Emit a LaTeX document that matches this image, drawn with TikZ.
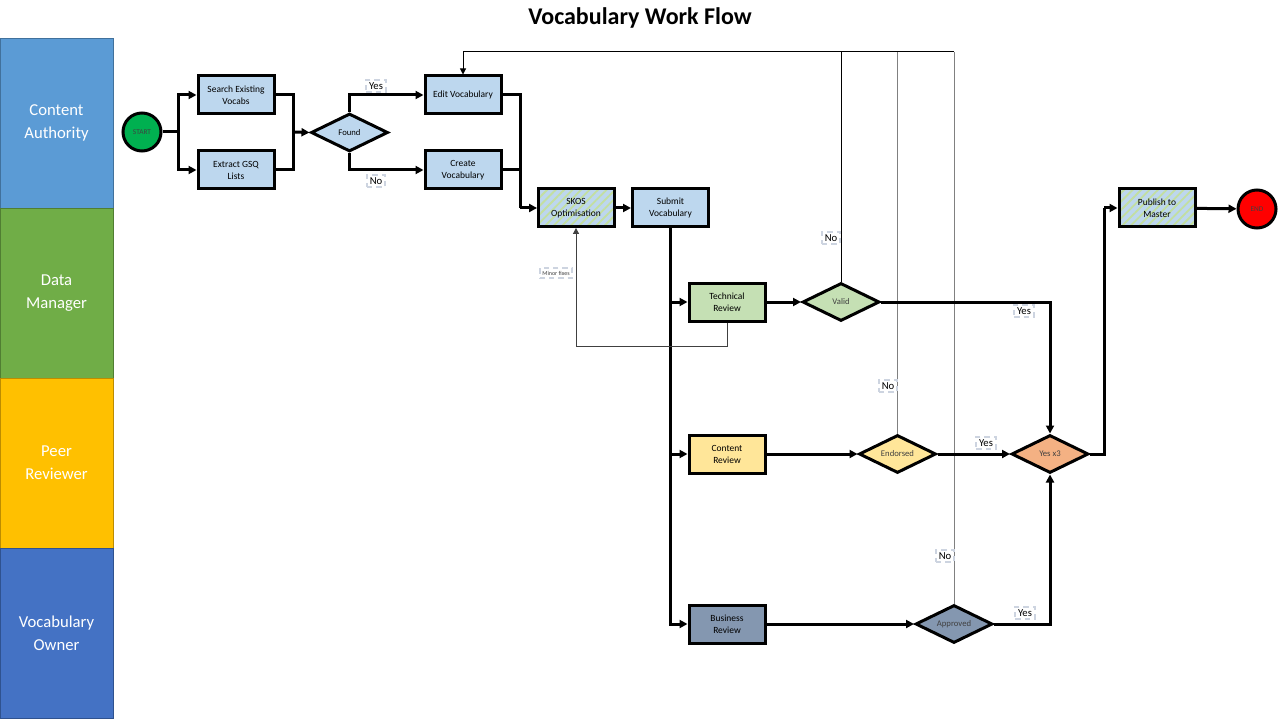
\documentclass[tikz,border=0pt]{standalone}
\usepackage{fontspec}
\setmainfont{Carlito}
\usetikzlibrary{shapes.geometric,arrows.meta,patterns.meta}
\definecolor{laneA}{HTML}{5B9BD5}
\definecolor{laneAb}{HTML}{41719C}
\definecolor{laneB}{HTML}{70AD47}
\definecolor{laneBb}{HTML}{507E32}
\definecolor{laneC}{HTML}{FFC000}
\definecolor{laneCb}{HTML}{BC8C00}
\definecolor{laneD}{HTML}{4472C4}
\definecolor{laneDb}{HTML}{2F528F}
\definecolor{procblue}{HTML}{BDD7EE}
\definecolor{techgreen}{HTML}{C5E0B4}
\definecolor{contyellow}{HTML}{FFE699}
\definecolor{busslate}{HTML}{8497B0}
\definecolor{yesorange}{HTML}{F4B183}
\definecolor{startgreen}{HTML}{00B050}
\definecolor{hatchgreen}{HTML}{C3DFA0}
\definecolor{lblborder}{HTML}{CDD4E0}
\definecolor{darktext}{HTML}{404040}
\tikzset{
  lane/.style={rectangle, draw=#1, line width=0.6pt, minimum width=84.75pt, minimum height=127.5pt,
    text=white, align=center, font=\fontsize{12.5}{17}\selectfont, inner sep=0pt},
  proc/.style={rectangle, draw=black, line width=2.25pt, minimum width=57pt, minimum height=28.5pt,
    align=center, font=\fontsize{7.1}{9}\selectfont, inner sep=1pt},
  hatched/.style={proc, preaction={fill=procblue},
    pattern={Lines[angle=45,distance=4.5pt,line width=1.4pt]}, pattern color=hatchgreen},
  decision/.style={diamond, aspect=2, draw=black, line width=2.25pt, minimum width=57.75pt,
    minimum height=28.5pt, inner sep=0.5pt, text=darktext, font=\fontsize{6.5}{7}\selectfont},
  term/.style={circle, draw=black, line width=2.25pt, minimum size=28.5pt, inner sep=0pt,
    font=\fontsize{5.5}{6}\selectfont},
  conn/.style={line width=2.25pt, -{Triangle[length=6pt,width=6pt]}},
  seg/.style={line width=2.25pt},
  thinconn/.style={line width=0.75pt, -{Triangle[length=4.5pt,width=4.5pt]}},
  thinseg/.style={line width=0.75pt},
  lbl/.style={draw=lblborder, dashed, dash pattern=on 4pt off 3pt, line width=1.6pt, fill=white,
    inner sep=2pt, font=\fontsize{8}{9}\selectfont},
}
\begin{document}
\begin{tikzpicture}[x=0.75pt,y=-0.75pt]
\useasboundingbox (0,0) rectangle (1280,720);
\fill[white] (0,0) rectangle (1280,720);

% title
\node[font=\fontsize{18}{20}\bfseries] (title) at (640,18) {Vocabulary Work Flow};

% lanes
\node[lane=laneAb, fill=laneA] (laneCA) at (56.5,123) {Content\\Authority};
\node[lane=laneBb, fill=laneB] (laneDM) at (56.5,293) {Data\\Manager};
\node[lane=laneCb, fill=laneC] (lanePR) at (56.5,463) {Peer\\Reviewer};
\node[lane=laneDb, fill=laneD] (laneVO) at (56.5,633) {Vocabulary\\Owner};

% nodes
\node[term, fill=startgreen, text=darktext] (start) at (142,132) {START};
\node[proc, fill=procblue] (search) at (236,95) {Search Existing\\Vocabs};
\node[proc, fill=procblue] (extract) at (236,170) {Extract GSQ\\Lists};
\node[decision, fill=procblue, text=black] (found) at (349.5,132.5) {Found};
\node[proc, fill=procblue] (edit) at (463,95) {Edit Vocabulary};
\node[proc, fill=procblue] (create) at (463,170) {Create\\Vocabulary};
\node[hatched] (skos) at (576,208) {SKOS\\Optimisation};
\node[proc, fill=procblue] (submit) at (670.5,208) {Submit\\Vocabulary};
\node[proc, fill=techgreen] (tech) at (727,302) {Technical\\Review};
\node[decision, fill=techgreen] (valid) at (841,302) {Valid};
\node[proc, fill=contyellow] (content) at (727,454) {Content\\Review};
\node[decision, fill=contyellow] (endorsed) at (897.5,454) {Endorsed};
\node[decision, fill=yesorange] (yesx3) at (1050,454) {Yes x3};
\node[proc, fill=busslate] (business) at (727,624) {Business\\Review};
\node[decision, fill=busslate] (approved) at (954,624) {Approved};
\node[hatched] (publish) at (1157,208) {Publish to\\Master};
\node[term, fill=red, text=darktext] (endn) at (1257,209) {END};

% junction coordinates
\coordinate (j1) at (178,132);
\coordinate (j2) at (293,132);
\coordinate (j3) at (520,208);
\coordinate (lp) at (463,52);
\coordinate (mf) at (576,346);
\coordinate (j5) at (1104,208);

% connectors
\draw[seg] (start.east) -- (j1);
\draw[conn] (j1) |- (search.west);
\draw[conn] (j1) |- (extract.west);
\draw[seg] (search.east) -| (j2);
\draw[seg] (extract.east) -| (j2);
\draw[conn] (j2) -- (found.west);
\draw[conn] (found.north) |- (edit.west);
\draw[conn] (found.south) |- (create.west);
\draw[seg] (edit.east) -| (j3);
\draw[seg] (create.east) -| (j3);
\draw[conn] (j3) -- (skos.west);
\draw[conn] (skos) -- (submit);
\draw[conn] (submit.south) |- (business.west);
\draw[conn] (submit.south |- tech.west) -- (tech.west);
\draw[conn] (submit.south |- content.west) -- (content.west);
\draw[thinconn, draw=darktext] (tech.south) |- (mf) -- (skos.south);
\draw[conn] (tech) -- (valid);
\draw[conn] (content) -- (endorsed);
\draw[conn] (business) -- (approved);
\draw[thinseg, draw=gray] (endorsed.north) -- (endorsed.north |- lp);
\draw[thinseg, draw=gray] (approved.north) -- (approved.north |- lp);
\draw[thinseg] (approved.north |- lp) -- (valid.north |- lp);
\draw[thinconn] (valid.north) |- (lp) -- (edit.north);
\draw[conn] (valid.east) -| (yesx3.north);
\draw[conn] (endorsed) -- (yesx3);
\draw[conn] (approved.east) -| (yesx3.south);
\draw[seg] (yesx3.east) -| (j5);
\draw[conn] (j5) -- (publish.west);
\draw[conn] (publish) -- (endn);

% labels
\node[lbl] (lyes1) at (376,86) {Yes};
\node[lbl] (lno1) at (376,181) {No};
\node[lbl, font=\fontsize{4.5}{5}\selectfont, text=darktext] (lminor) at (556,273) {Minor fixes};
\node[lbl] (lno2) at (831,238) {No};
\node[lbl] (lno3) at (888,386) {No};
\node[lbl] (lno4) at (945,556) {No};
\node[lbl] (lyes2) at (1024,311) {Yes};
\node[lbl] (lyes3) at (986,443) {Yes};
\node[lbl] (lyes4) at (1025,613) {Yes};
\end{tikzpicture}
\end{document}
